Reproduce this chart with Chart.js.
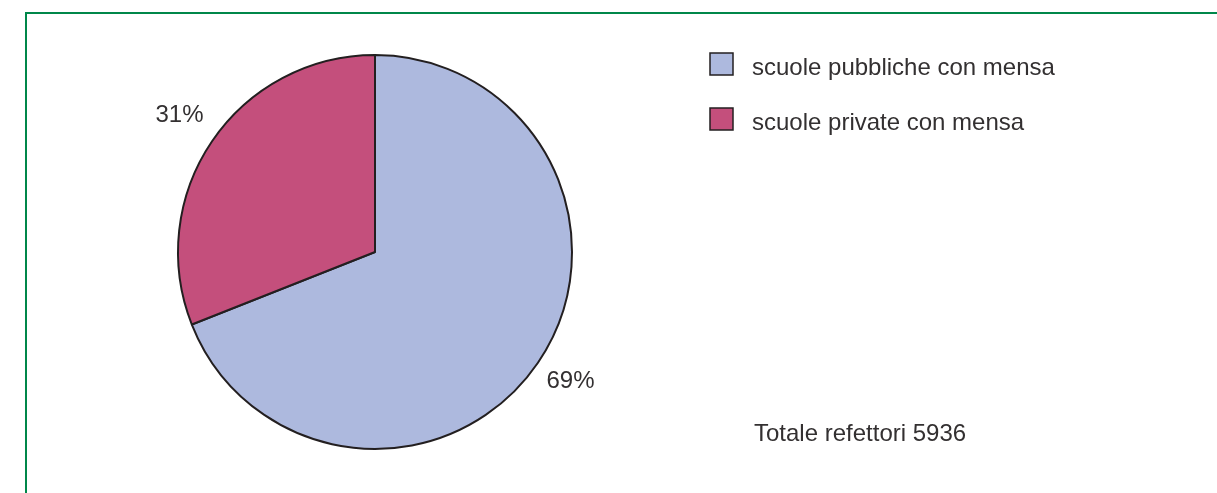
<!DOCTYPE html>
<html>
<head>
<meta charset="utf-8">
<script src="https://cdn.jsdelivr.net/npm/chart.js@4/dist/chart.umd.min.js"></script>
<style>
    html, body { margin: 0; padding: 0; background: #fff; }
    #wrap { position: relative; width: 1217px; height: 493px; overflow: hidden; }
    #frame {
        position: absolute; left: 25px; top: 12px;
        width: 1300px; height: 600px;
        border: 2px solid #00874a; box-sizing: border-box;
    }
    #pie { position: absolute; left: 0; top: 0; }
</style>
</head>
<body>
<div id="wrap">
    <div id="frame"></div>
    <canvas id="pie" width="1217" height="493"></canvas>
</div>
<script>
// Refettori scolastici per tipo di scuola
const categories = ["scuole pubbliche con mensa", "scuole private con mensa"];
const percentages = [69, 31];
const sliceColors = ["#adb9de", "#c44f7c"];
const totalLabel = "Totale refettori 5936";

const FONT = "24px 'Liberation Sans', Arial, sans-serif";
const TEXT_COLOR = "#333031";
const EDGE_COLOR = "#231f20";

// percent labels outside each slice + custom legend and total
const annotations = {
    id: "annotations",
    afterDraw(chart) {
        const ctx = chart.ctx;
        const meta = chart.getDatasetMeta(0);
        ctx.save();
        ctx.font = FONT;
        ctx.fillStyle = TEXT_COLOR;
        ctx.textAlign = "center";
        ctx.textBaseline = "middle";
        meta.data.forEach((arc, i) => {
            const mid = (arc.startAngle + arc.endAngle) / 2;
            const r = arc.outerRadius * 1.2;
            ctx.fillText(
                percentages[i] + "%",
                arc.x + Math.cos(mid) * r,
                arc.y + Math.sin(mid) * r - 4
            );
        });

        // legend
        ctx.textAlign = "left";
        categories.forEach((name, i) => {
            const top = 53 + i * 55;
            ctx.fillStyle = sliceColors[i];
            ctx.fillRect(710, top, 23, 22);
            ctx.strokeStyle = EDGE_COLOR;
            ctx.lineWidth = 1.5;
            ctx.strokeRect(710, top, 23, 22);
            ctx.fillStyle = TEXT_COLOR;
            ctx.fillText(name, 752, top + 15);
        });

        ctx.fillText(totalLabel, 754, 434);
        ctx.restore();
    },
};

new Chart(document.getElementById("pie").getContext("2d"), {
    type: "pie",
    data: {
        labels: categories,
        datasets: [
            {
                data: percentages,
                backgroundColor: sliceColors,
                borderColor: EDGE_COLOR,
                borderWidth: 2,
                borderAlign: "center",
            },
        ],
    },
    options: {
        responsive: false,
        animation: false,
        layout: {
            padding: { left: 177, right: 644, top: 54, bottom: 43 },
        },
        plugins: {
            legend: { display: false },
            tooltip: { enabled: false },
        },
    },
    plugins: [annotations],
});
</script>
</body>
</html>
